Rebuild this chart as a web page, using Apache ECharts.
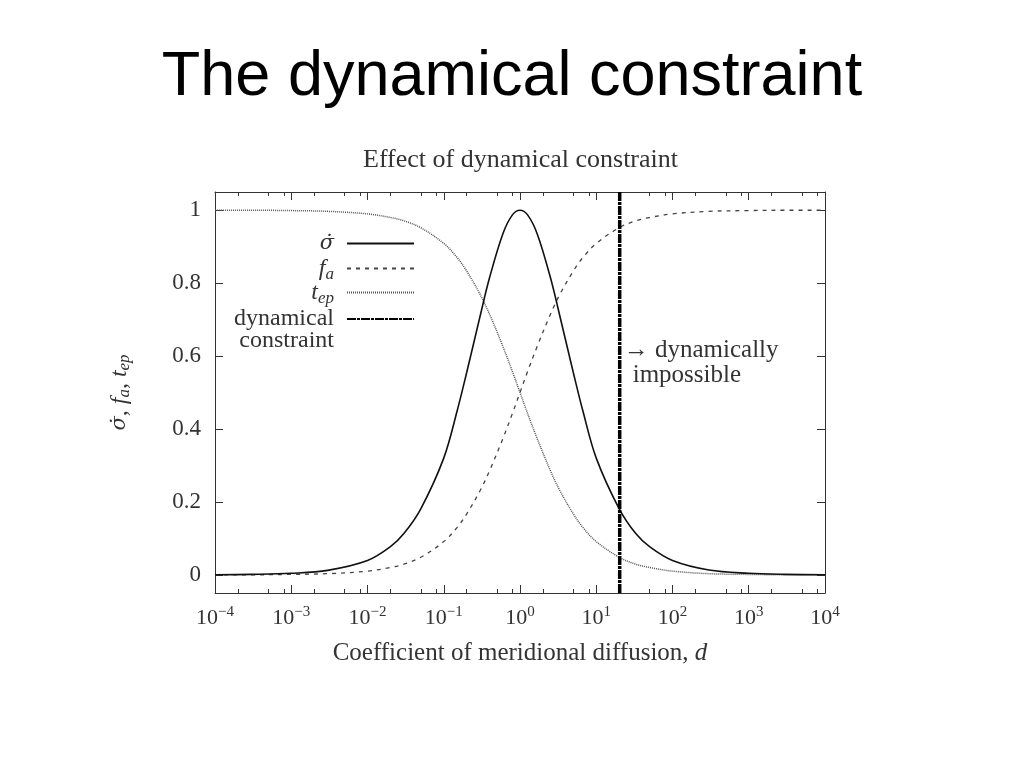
<!DOCTYPE html>
<html>
<head>
<meta charset="utf-8">
<script src="https://cdn.jsdelivr.net/npm/echarts@6/dist/echarts.min.js"></script>
<style>
html,body{margin:0;padding:0;background:#fff;}
#main{width:1024px;height:768px;}
</style>
</head>
<body>
<div id="main"></div>
<script>
// Coefficient of meridional diffusion d (x values)
var dValues = [0.0001, 0.0003, 0.001, 0.003, 0.01, 0.02, 0.03, 0.05, 0.1, 0.15, 0.2, 0.3, 0.4, 0.6, 0.8, 1,
               1.25, 1.67, 2.5, 3.33, 5, 6.67, 10, 20, 33, 50, 100, 300, 1000, 3000, 10000];
// sigma-dot
var sigmaValues = [0.000, 0.001, 0.004, 0.012, 0.039, 0.077, 0.113, 0.181, 0.32, 0.45, 0.555, 0.71, 0.816, 0.937, 0.988, 1.0,
                   0.988, 0.937, 0.816, 0.71, 0.555, 0.45, 0.32, 0.181, 0.113, 0.077, 0.039, 0.013, 0.004, 0.001, 0.000];
// f_a
var faValues = [0.000, 0.000, 0.001, 0.003, 0.010, 0.020, 0.029, 0.048, 0.091, 0.130, 0.167, 0.231, 0.286, 0.375, 0.444, 0.500,
                0.556, 0.625, 0.714, 0.769, 0.833, 0.870, 0.909, 0.952, 0.971, 0.980, 0.990, 0.997, 0.999, 1.000, 1.000];
// t_ep
var tepValues = [1.000, 1.000, 0.999, 0.997, 0.990, 0.980, 0.971, 0.952, 0.909, 0.870, 0.833, 0.769, 0.714, 0.625, 0.556, 0.500,
                 0.444, 0.375, 0.286, 0.231, 0.167, 0.130, 0.091, 0.048, 0.029, 0.020, 0.010, 0.003, 0.001, 0.000, 0.000];
// dynamical constraint position
var constraintD = 20.3;
var constraintY = [-0.05, 1.05];

var xMajorTicks = [1e-4, 1e-3, 1e-2, 1e-1, 1, 10, 100, 1000, 10000];
var xMinorMantissa = [2, 5, 8];
var yTicks = [0, 0.2, 0.4, 0.6, 0.8, 1];

var xMinorTicks = [];
for (var k = 0; k < xMajorTicks.length - 1; k++) {
  for (var m = 0; m < xMinorMantissa.length; m++) xMinorTicks.push(xMinorMantissa[m] * xMajorTicks[k]);
}
function pairs(ys) { return dValues.map(function (d, i) { return [d, ys[i]]; }); }

var SERIF = '"Liberation Serif", "DejaVu Serif", serif';
var DSERIF = '"DejaVu Serif", serif';
var TXT = '#333';
var FRAME = '#333';

function logAxis(pos, show, ticks, len) {
  return {
    type: 'log', logBase: 10, min: 1e-4, max: 1e4, position: pos, gridIndex: 0,
    axisLine: { show: show, onZero: false, lineStyle: { color: FRAME, width: 1 } },
    axisTick: { show: true, inside: true, length: len, customValues: ticks, lineStyle: { color: FRAME, width: 1 } },
    axisLabel: { show: false },
    splitLine: { show: false }, minorTick: { show: false }, minorSplitLine: { show: false }
  };
}

var chart = echarts.init(document.getElementById('main'), null, { renderer: 'canvas' });
var xMain = logAxis('bottom', true, xMajorTicks, 8);
xMain.axisLabel = {
  show: true, customValues: xMajorTicks, margin: 12,
  formatter: function (v) {
    var e = Math.round(Math.log(v) / Math.LN10);
    return '{b|10}{s|' + (e < 0 ? '\u2212' + (-e) : e) + '}';
  },
  rich: {
    b: { fontFamily: SERIF, fontSize: 22, color: TXT, lineHeight: 26 },
    s: { fontFamily: SERIF, fontSize: 15, color: TXT, verticalAlign: 'top', lineHeight: 26, padding: [0, 0, 12, 0] }
  }
};
xMain.name = 'Coefficient of meridional diffusion, {i|d}';
xMain.nameLocation = 'middle';
xMain.nameGap = 48;
xMain.nameTextStyle = { fontFamily: SERIF, fontSize: 25, color: TXT,
  rich: { i: { fontFamily: SERIF, fontStyle: 'italic', fontSize: 25, color: TXT } } };

function yAxisDef(pos) {
  return {
    type: 'value', min: -0.05, max: 1.05, position: pos,
    axisLine: { show: true, onZero: false, lineStyle: { color: FRAME, width: 1 } },
    axisTick: { show: true, inside: true, length: 8, customValues: yTicks, lineStyle: { color: FRAME, width: 1 } },
    axisLabel: { show: false },
    splitLine: { show: false }
  };
}
var yLeft = yAxisDef('left');
yLeft.axisLabel = { show: true, customValues: yTicks, margin: 14, fontFamily: SERIF, fontSize: 23, color: TXT,
  formatter: function (v) { return String(Math.round(v * 10) / 10); } };
yLeft.name = '{g|\u03C3\u0307}, {i|f}{s|a}, {i|t}{s|ep}';
yLeft.nameLocation = 'middle';
yLeft.nameRotate = 90;
yLeft.nameGap = 82;
yLeft.nameTextStyle = { fontFamily: SERIF, fontSize: 24, color: TXT,
  rich: {
    g: { fontFamily: DSERIF, fontStyle: 'italic', fontSize: 21, color: TXT },
    i: { fontFamily: SERIF, fontStyle: 'italic', fontSize: 24, color: TXT },
    s: { fontFamily: SERIF, fontStyle: 'italic', fontSize: 17, color: TXT, verticalAlign: 'bottom', padding: [10, 0, 0, 0] }
  } };

var legendNames = { 'sigma': '{g|\u03C3\u0307}', 'fa': '{i|f}{s|a}', 'tep': '{i|t}{s|ep}', 'dyn': 'dynamical' };
var legendTops = { 'sigma': 233, 'fa': 254, 'tep': 278, 'dyn': 307 };

function legendFor(name) {
  return {
    orient: 'vertical', align: 'right', right: 609, top: legendTops[name], padding: 0,
    itemWidth: 67, itemHeight: name === 'dyn' ? 18 : 14, itemGap: 0,
    data: [name],
    itemStyle: { opacity: 0 },
    formatter: function (n) { return legendNames[n]; },
    textStyle: { fontFamily: SERIF, fontSize: 24, color: TXT, lineHeight: 20, padding: [0, 8, 0, 0],
      rich: {
        g: { fontFamily: DSERIF, fontStyle: 'italic', fontSize: 21, color: TXT, lineHeight: 20 },
        i: { fontFamily: SERIF, fontStyle: 'italic', fontSize: 24, color: TXT, lineHeight: 20 },
        s: { fontFamily: SERIF, fontStyle: 'italic', fontSize: 17, color: TXT, lineHeight: 20, padding: [12, 0, 0, 0] }
      } }
  };
}

var option = {
  backgroundColor: '#fff',
  animation: false,
  title: [
    { text: 'The dynamical constraint', left: 'center', top: 41,
      textStyle: { fontFamily: '"Liberation Sans", Arial, sans-serif', fontSize: 63, fontWeight: 'normal', color: '#000' } },
    { text: 'Effect of dynamical constraint', left: 358, top: 142,
      textStyle: { fontFamily: SERIF, fontSize: 26, fontWeight: 'normal', color: TXT } }
  ],
  grid: { left: 215, right: 199, top: 192, bottom: 175, containLabel: false },
  legend: ['sigma', 'fa', 'tep', 'dyn'].map(legendFor),
  graphic: [
    { type: 'text', right: 690, top: 329,
      style: { text: 'constraint', font: '24px ' + SERIF, fill: TXT } }
  ],
  xAxis: [xMain, logAxis('bottom', false, xMinorTicks, 4), logAxis('top', true, xMajorTicks, 8), logAxis('top', false, xMinorTicks, 4)],
  yAxis: [yLeft, yAxisDef('right')],
  series: [
    { name: 'sigma', type: 'line', data: pairs(sigmaValues), smooth: 0.35, showSymbol: false, symbol: 'none',
      lineStyle: { color: '#111', width: 1.6, type: 'solid' }, itemStyle: { color: '#111' }, z: 4 },
    { name: 'fa', type: 'line', data: pairs(faValues), smooth: 0.35, showSymbol: false, symbol: 'none',
      lineStyle: { color: '#444', width: 1.3, type: [4, 5] }, itemStyle: { color: '#444' }, z: 3 },
    { name: 'tep', type: 'line', data: pairs(tepValues), smooth: 0.35, showSymbol: false, symbol: 'none',
      lineStyle: { color: '#555', width: 1.5, type: [1, 1] }, itemStyle: { color: '#555' }, z: 3 },
    { name: 'dyn', type: 'line', data: constraintY.map(function (y) { return [constraintD, y]; }),
      showSymbol: false, symbol: 'none',
      lineStyle: { color: '#000', width: 3.5, type: [9, 1, 3, 1] }, itemStyle: { color: '#000' }, z: 5,
      markPoint: {
        symbol: 'circle', symbolSize: 0, silent: true,
        data: [{ coord: [constraintD, 0.58], value: 0 }],
        label: {
          show: true, position: 'right', distance: 4, align: 'left',
          formatter: '{a|\u2192 dynamically}\n{b|impossible}',
          rich: {
            a: { fontFamily: SERIF, fontSize: 25, color: TXT, lineHeight: 25 },
            b: { fontFamily: SERIF, fontSize: 25, color: TXT, lineHeight: 25, padding: [0, 0, 0, 9] }
          }
        }
      } }
  ]
};
chart.setOption(option);
</script>
</body>
</html>
